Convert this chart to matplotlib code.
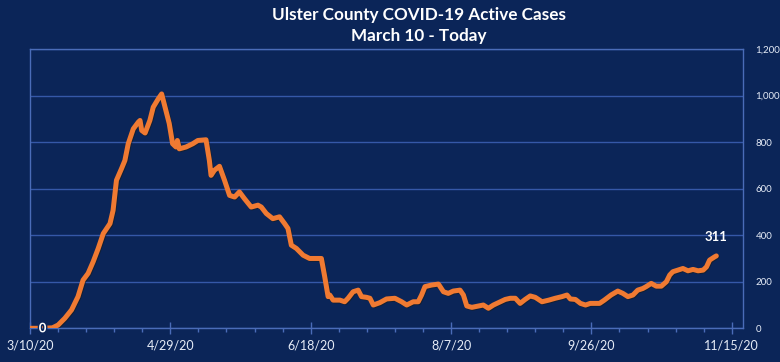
import matplotlib
matplotlib.use("Agg")
import matplotlib.pyplot as plt
from matplotlib.ticker import FixedLocator, MultipleLocator, FuncFormatter
import matplotlib.patheffects as pe

# ---- data (days since 3/10/20, active cases) ----
days = [0, 4, 8, 10, 12.4, 14.8, 17.1, 18.9, 20.7, 22.5, 24.3, 26.1, 28.5, 29.6, 30.8,
        32.6, 33.8, 35, 36.8, 38.6, 39.2, 39.8, 41, 42.7, 43.9, 45.7, 46.9, 48.1, 49.6,
        50.8, 52, 52.5, 53.2, 55.6, 58, 59.8, 62.7, 63.9, 64.5, 65.7, 67.5, 69.3, 71.1,
        72.9, 74.6, 76.4, 78.8, 81.2, 82.4, 84.2, 86.5, 88.9, 90.7, 91.9, 93.1, 94.9,
        97.3, 99.6, 102, 103.8, 105.0, 106.2, 106.8, 108, 110.4, 112.1, 113.3, 115.1,
        116.9, 118.1, 119.9, 121.1, 122.3, 124.6, 127, 130, 132.4, 134.2, 136.5, 138.3,
        139.5, 140.7, 143.1, 145.5, 147.3, 149, 150.8, 153.2, 154.4, 155.6, 157.4, 159.8,
        161.5, 163.3, 165.1, 167.5, 169.3, 171.1, 172.9, 174.6, 176.4, 178.2, 180, 182.4,
        184.8, 187.1, 189.5, 191.3, 192.5, 194.3, 196.1, 197.9, 199.6, 201.4, 202.9,
        204.6, 207, 209.4, 211.2, 213, 214.8, 216.5, 218.3, 219.5, 221.3, 223.1, 224.9,
        226.7, 227.9, 229.0, 230.8, 232.6, 234.4, 236.2, 238, 239.8, 241, 242.1, 243.9, 244.5]
cases = [0, 0, 2, 14, 43, 79, 136, 207, 236, 286, 343, 407, 450, 507, 636,
         686, 721, 793, 857, 886, 893, 850, 839, 893, 950, 986, 1007, 950, 880,
         793, 779, 807, 771, 779, 793, 807, 810, 721, 657, 679, 696, 636, 571,
         564, 586, 557, 521, 529, 521, 493, 471, 479, 450, 429, 357, 343,
         314, 300, 300, 300, 221, 136, 143, 121, 121, 114, 129, 157,
         164, 136, 133, 129, 100, 110, 126, 129, 114, 100, 114, 114,
         143, 179, 186, 190, 157, 150, 160, 164, 143, 96, 90, 96,
         100, 86, 100, 114, 124, 129, 129, 107, 124, 139, 133, 114,
         121, 129, 136, 143, 126, 124, 107, 100, 107, 107, 107,
         121, 143, 160, 150, 136, 143, 164, 171, 179, 193, 181, 181,
         200, 229, 243, 250, 257, 247, 253, 247, 250, 264, 293, 307, 311]

tick_days = [0, 50, 100, 150, 200, 250]
tick_labels = ["3/10/20", "4/29/20", "6/18/20", "8/7/20", "9/26/20", "11/15/20"]
y_ticks = [0, 200, 400, 600, 800, 1000, 1200]

title_lines = ["Ulster County COVID-19 Active Cases", "March 10 - Today"]

# ---- style ----
bg = "#0b2558"
grid_c = "#3558a8"
spine_c = "#4a6cb8"
orange = "#f07a32"
txt_c = "#e6ecf7"

plt.rcParams['font.family'] = ['Lato', 'DejaVu Sans']

fig = plt.figure(figsize=(7.8, 3.62), dpi=100, facecolor=bg)
ax = fig.add_axes([30/780, 1-328.3/362, (743-30)/780, (328.3-49)/362])
ax.set_facecolor(bg)

ax.plot(days, cases, color=orange, lw=3.6, solid_capstyle='round', solid_joinstyle='round',
        zorder=3, path_effects=[pe.SimpleLineShadow(offset=(0.6, -0.6), shadow_color='#1a1a10', alpha=0.5),
                                pe.Normal()])

ax.set_xlim(0, 254)
ax.set_ylim(0, 1200)

ax.yaxis.set_major_locator(FixedLocator(y_ticks))
ax.yaxis.set_major_formatter(FuncFormatter(lambda v, p: f"{int(v):,}"))
ax.yaxis.tick_right()
ax.tick_params(axis='y', length=0, pad=9, labelsize=7, labelcolor=txt_c)
ax.grid(axis='y', color=grid_c, lw=1.0, zorder=1)

ax.xaxis.set_major_locator(FixedLocator(tick_days))
ax.set_xticklabels(tick_labels)
ax.xaxis.set_minor_locator(MultipleLocator(10))
ax.tick_params(axis='x', which='major', direction='inout', length=8, width=1, color=spine_c,
               labelsize=9, labelcolor=txt_c, pad=4)
ax.tick_params(axis='x', which='minor', direction='out', length=3, width=1, color=spine_c)

for s in ax.spines.values():
    s.set_color(spine_c)
    s.set_linewidth(1.0)

ax.text(4.5, 0, "0", color='white', fontsize=9.5, fontweight='bold', ha='center', va='center',
        zorder=5, path_effects=[pe.withStroke(linewidth=2, foreground=bg)])
ax.annotate(f"{cases[-1]}", (days[-1], cases[-1]), xytext=(0, 9), textcoords='offset points',
            color='white', fontsize=9.5, fontweight='bold', ha='center', va='bottom', zorder=5)

fig.text(419/780, 1-15/362, title_lines[0], color='white', fontsize=12.3, fontweight='bold',
         ha='center', va='center')
fig.text(419/780, 1-36/362, title_lines[1], color='white', fontsize=12.3, fontweight='bold',
         ha='center', va='center')

fig.savefig("out.png", dpi=100, facecolor=bg)
